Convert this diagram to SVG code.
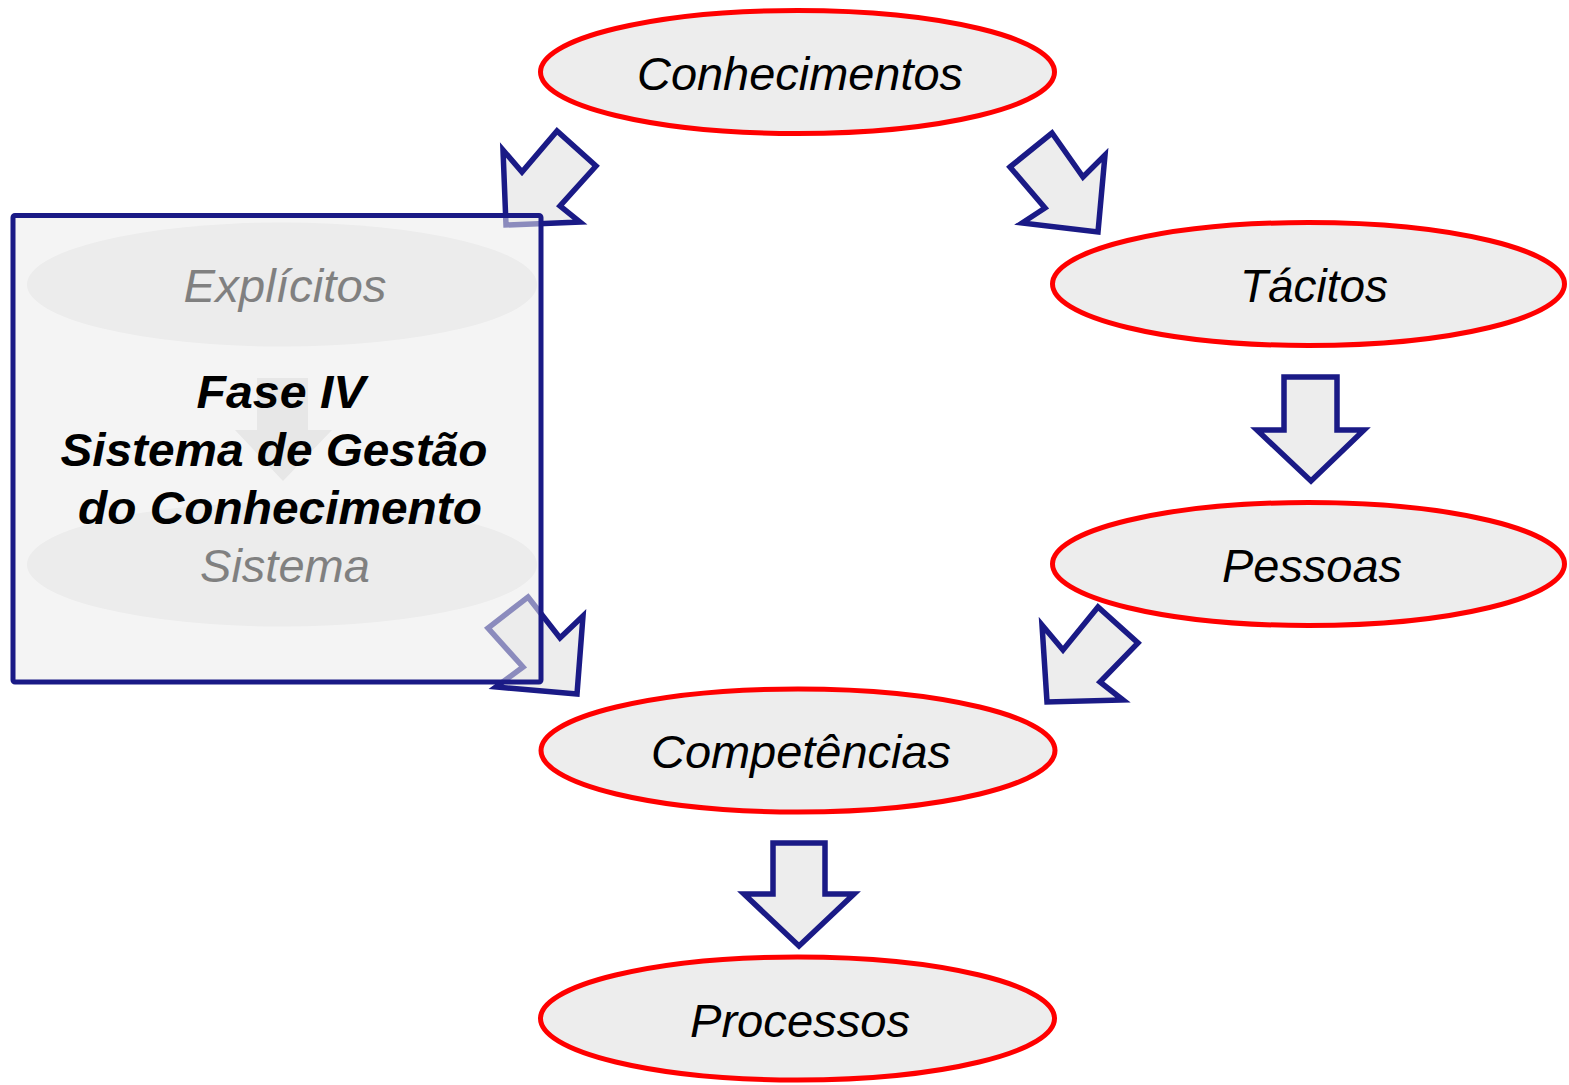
<svg xmlns="http://www.w3.org/2000/svg" width="1569" height="1085" viewBox="0 0 1569 1085">
<style>
.node{fill:#ededed;stroke:#ff0000;stroke-width:5}
.inner{fill:#ededed;stroke:none}
.lbl{font-family:"Liberation Sans",Arial,sans-serif;font-style:italic;font-size:47px;fill:#000;text-anchor:middle}
.bold{font-family:"Liberation Sans",Arial,sans-serif;font-style:italic;font-weight:bold;font-size:47px;fill:#000;text-anchor:middle}
.arrow{fill:#ededed;stroke:#1a1a86;stroke-width:5.5;stroke-linejoin:miter}
</style>
<rect width="1569" height="1085" fill="#ffffff"/>
<g id="conhecimentos"><ellipse class="node" cx="797.5" cy="72" rx="257" ry="61.5"/><text class="lbl" x="800" y="90" textLength="326" lengthAdjust="spacingAndGlyphs">Conhecimentos</text></g>
<g id="tacitos"><ellipse class="node" cx="1308.5" cy="284" rx="256" ry="61.5"/><text class="lbl" x="1314" y="302" textLength="148" lengthAdjust="spacingAndGlyphs">Tácitos</text></g>
<g id="pessoas"><ellipse class="node" cx="1308.5" cy="564" rx="256" ry="61.5"/><text class="lbl" x="1312" y="582" textLength="180" lengthAdjust="spacingAndGlyphs">Pessoas</text></g>
<g id="competencias"><ellipse class="node" cx="798" cy="750.5" rx="257" ry="61.5"/><text class="lbl" x="801" y="768" textLength="300" lengthAdjust="spacingAndGlyphs">Competências</text></g>
<g id="processos"><ellipse class="node" cx="797.5" cy="1018.5" rx="257" ry="61.5"/><text class="lbl" x="800" y="1037" textLength="220" lengthAdjust="spacingAndGlyphs">Processos</text></g>
<g id="explicitos"><ellipse class="inner" cx="282" cy="284.5" rx="255" ry="62"/><text class="lbl" x="285" y="302" textLength="203" lengthAdjust="spacingAndGlyphs">Explícitos</text></g>
<g id="sistema"><ellipse class="inner" cx="282" cy="564.5" rx="255" ry="62"/><text class="lbl" x="285" y="582" textLength="170" lengthAdjust="spacingAndGlyphs">Sistema</text></g>
<g id="connectors">
<polygon points="257,378 308,378 308,430 332,430 283,481 235,430 257,430" fill="#e2e2e2"/>
<polygon class="arrow" points="503,150 522,172 557,131 596,166 560,206 580,222 506,225"/>
<polygon class="arrow" points="1010,167 1052,133 1083,177 1105,155 1098,232 1022,223 1045,208"/>
<polygon class="arrow" points="1284,377 1337,377 1337,430 1364,430 1311,481 1257,430 1284,430"/>
<polygon class="arrow" points="1042,625 1063,650 1098,607 1138,643 1100,682 1123,700 1047,702"/>
<polygon class="arrow" points="528,597 560,638 583,616 577,694 496,687 523,667 488,628"/>
<polygon class="arrow" points="773,843 825,843 825,894 854,894 799,946 744,894 773,894"/>
</g>
<g id="fase-iv">
<rect x="13" y="215.5" width="528" height="466.5" rx="2" fill="#ebebeb" fill-opacity="0.545" stroke="#1a1a86" stroke-width="5"/>
<text class="bold" x="281" y="408" textLength="169" lengthAdjust="spacingAndGlyphs">Fase IV</text>
<text class="bold" x="274" y="466" textLength="427" lengthAdjust="spacingAndGlyphs">Sistema de Gestão</text>
<text class="bold" x="280" y="524" textLength="404" lengthAdjust="spacingAndGlyphs">do Conhecimento</text>
</g>
</svg>
